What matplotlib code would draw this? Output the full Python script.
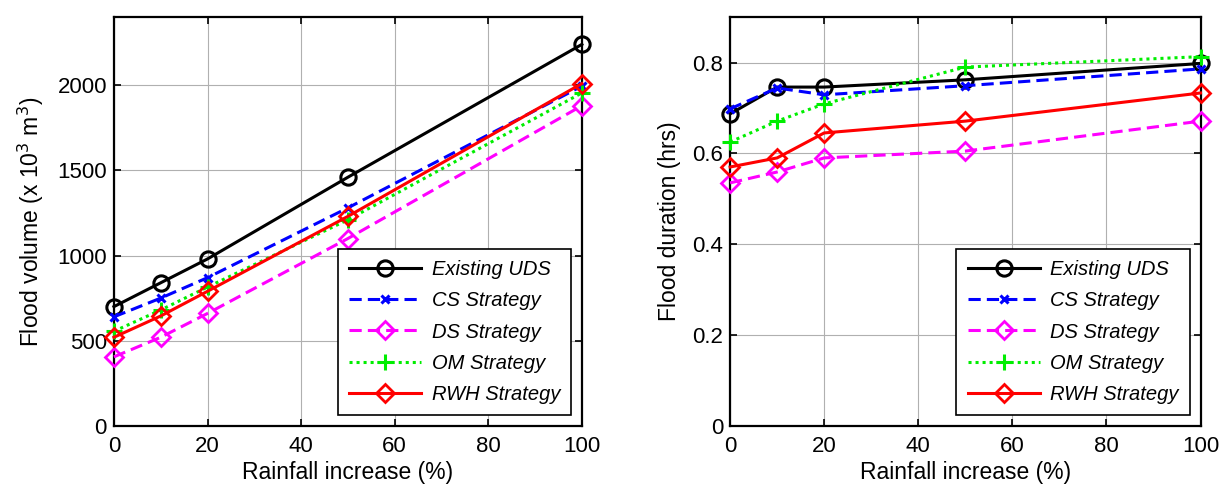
import matplotlib.pyplot as plt

plt.rcParams['font.family'] = ['Liberation Sans', 'DejaVu Sans']

# ==============================
# DATA
# ==============================
rain_increase = [0, 10, 20, 50, 100]

labels = ["Existing UDS", "CS Strategy", "DS Strategy", "OM Strategy", "RWH Strategy"]

# Flood volume (x 10^3 m^3)
vol_existing = [700, 840, 980, 1460, 2240]
vol_cs = [640, 750, 870, 1280, 1995]
vol_ds = [405, 520, 660, 1100, 1880]
vol_om = [555, 680, 815, 1210, 1955]
vol_rwh = [520, 645, 790, 1230, 2010]

# Flood duration (hrs)
dur_existing = [0.687, 0.746, 0.746, 0.762, 0.798]
dur_cs = [0.698, 0.744, 0.729, 0.749, 0.786]
dur_ds = [0.535, 0.559, 0.590, 0.605, 0.671]
dur_om = [0.625, 0.671, 0.709, 0.790, 0.813]
dur_rwh = [0.570, 0.590, 0.645, 0.671, 0.733]

styles = [
    dict(color="black", ls="-", marker="o", ms=11, mfc="none", mew=2.2),
    dict(color="#0000ff", ls=(0, (4, 2)), marker="x", ms=6, mew=2.2),
    dict(color="#ff00ff", ls=(0, (4, 2)), marker="D", ms=9, mfc="none", mew=2.0),
    dict(color="#00ee00", ls=(0, (1, 1.3)), marker="+", ms=11, mew=2.2),
    dict(color="#ff0000", ls="-", marker="D", ms=9, mfc="none", mew=2.0),
]


def draw(ax, series, ylabel, ylim, yticks, yticklabels):
    for s, lab, st in zip(series, labels, styles):
        ax.plot(rain_increase, s, lw=2.2, label=lab, clip_on=False, zorder=3, **st)
    ax.set_xlim(0, 100)
    ax.set_ylim(*ylim)
    ax.set_xticks([0, 20, 40, 60, 80, 100])
    ax.set_yticks(yticks)
    ax.set_yticklabels(yticklabels)
    ax.grid(True, color="#b0b0b0", lw=0.8)
    ax.set_axisbelow(True)
    ax.tick_params(direction="in", top=True, right=True, labelsize=16,
                   length=5, width=1.2)
    ax.tick_params(axis="x", pad=7)
    ax.tick_params(axis="y", pad=5)
    for sp in ax.spines.values():
        sp.set_linewidth(1.6)
    ax.set_xlabel("Rainfall increase (%)", fontsize=16.5, labelpad=3)
    ax.set_ylabel(ylabel, fontsize=16.5, labelpad=8)
    leg = ax.legend(loc="lower right", bbox_to_anchor=(0.977, 0.027),
                    borderaxespad=0,
                    prop=dict(style="italic", size=14.5), fancybox=False,
                    edgecolor="black", framealpha=1, handlelength=3.6,
                    borderpad=0.55, labelspacing=0.6, handletextpad=0.5)
    leg.get_frame().set_linewidth(1.2)
    leg.set_zorder(5)


fig = plt.figure(figsize=(12.25, 4.9), dpi=100)
ax1 = fig.add_axes([0.093, 0.131, 0.382, 0.834])
ax2 = fig.add_axes([0.596, 0.131, 0.384, 0.834])

draw(ax1, [vol_existing, vol_cs, vol_ds, vol_om, vol_rwh],
     "Flood volume (x 10$^3$ m$^3$)", (0, 2400),
     [0, 500, 1000, 1500, 2000], ["0", "500", "1000", "1500", "2000"])
draw(ax2, [dur_existing, dur_cs, dur_ds, dur_om, dur_rwh],
     "Flood duration (hrs)", (0, 0.9),
     [0, 0.2, 0.4, 0.6, 0.8], ["0", "0.2", "0.4", "0.6", "0.8"])

fig.savefig("out.png", dpi=100)
